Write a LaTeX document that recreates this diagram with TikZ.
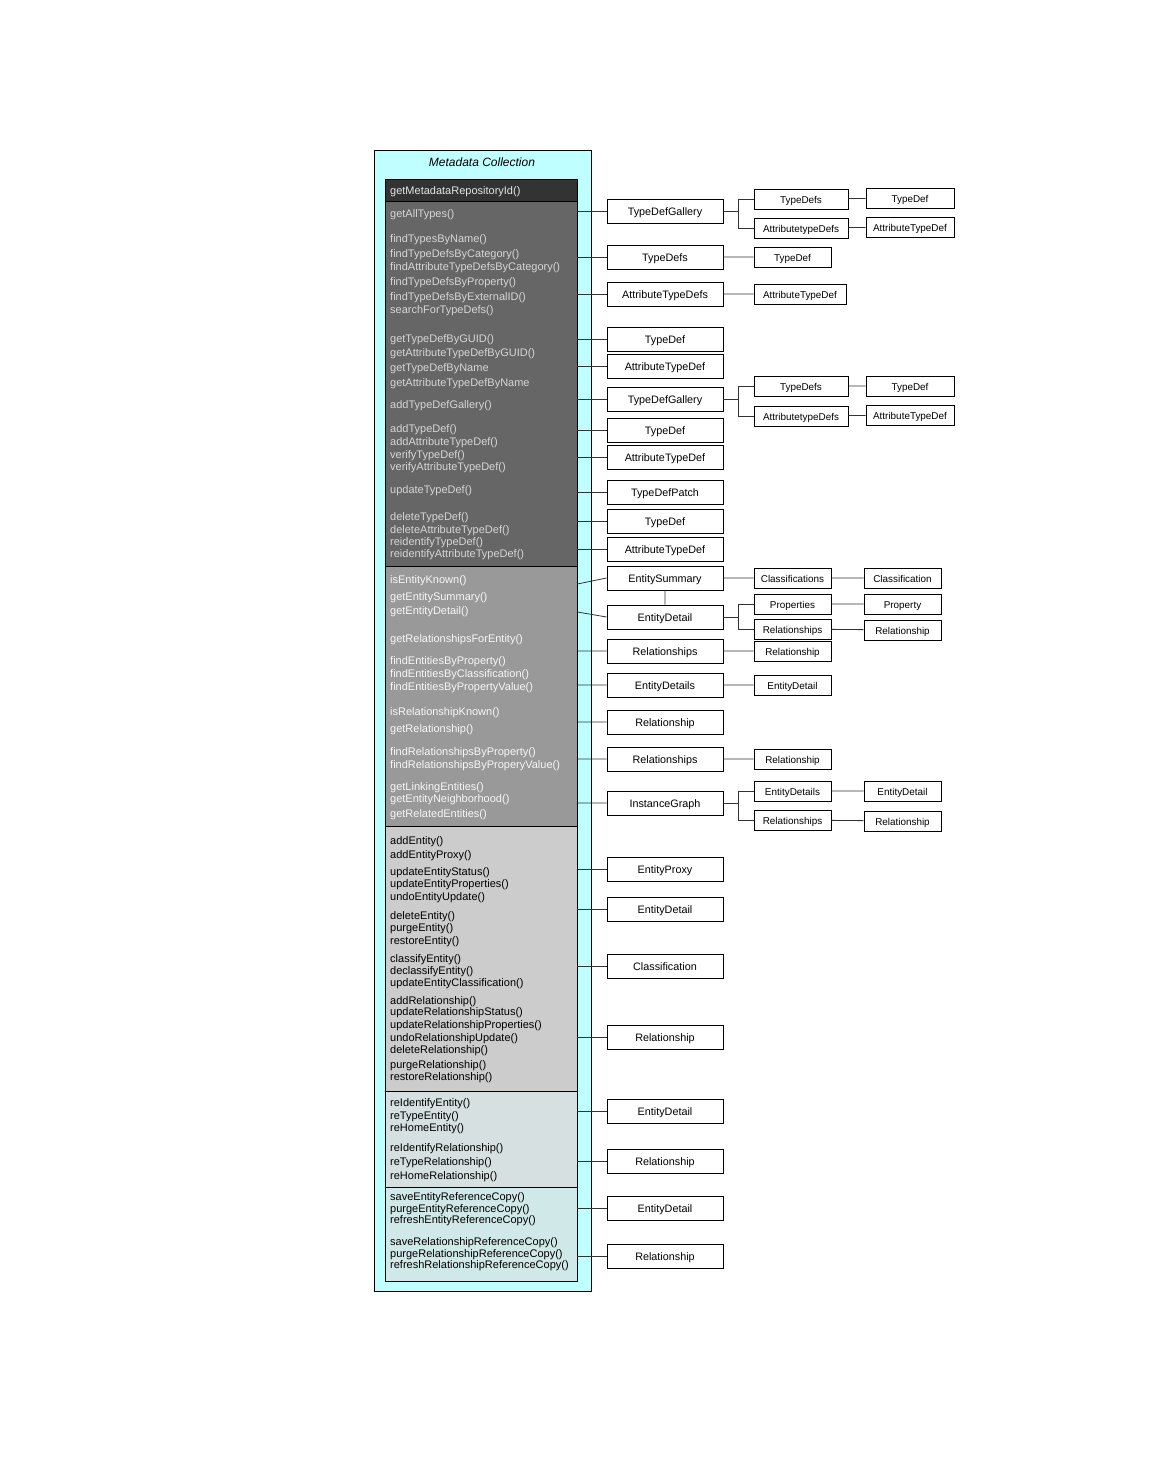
\documentclass[tikz,border=0pt]{standalone}
\usepackage{fontspec}
\setmainfont{Liberation Sans}
\definecolor{mcyan}{RGB}{192,255,255}
\definecolor{hdr}{RGB}{51,51,51}
\definecolor{grA}{RGB}{102,102,102}
\definecolor{grB}{RGB}{153,153,153}
\definecolor{grC}{RGB}{204,204,204}
\definecolor{grD}{RGB}{214,224,224}
\definecolor{grE}{RGB}{208,232,232}
\begin{document}
\begin{tikzpicture}[x=1pt,y=-1pt,
    sec/.style={draw,line width=0.8pt,inner sep=0pt,minimum width=192},
    meth/.style={anchor=west,inner sep=0pt,text height=9.6pt,text depth=0pt,
                 font=\fontsize{11}{12}\selectfont},
    methA/.style={meth,text=black!16},
    methB/.style={meth,text=black!3},
    obj/.style={draw,line width=0.8pt,fill=white,inner sep=0pt,minimum width=116,
                minimum height=24,text height=9.6pt,text depth=0pt,
                font=\fontsize{10.8}{12}\selectfont},
    sub/.style={draw,line width=0.8pt,fill=white,inner sep=0pt,minimum width=77,
                minimum height=20,text height=9.2pt,text depth=0pt,
                font=\fontsize{9.9}{11}\selectfont},
    link/.style={line width=0.8pt,draw=black!80}]
  \useasboundingbox (0,0) rectangle (1152,1468);

  % ---- collection ----------------------------------------------------------
  \node[draw,line width=0.8pt,fill=mcyan,inner sep=0pt,minimum width=217,
        minimum height=1141] (mc) at (482.5,720.5) {};
  \node[font=\itshape\fontsize{12}{14}\selectfont] (ttl) at (482,162) {Metadata Collection};

  \node[sec,fill=hdr,minimum height=22]  (hd)   at (481,190)    {};
  \node[sec,fill=grA,minimum height=365] (secA) at (481,383.5)  {};
  \node[sec,fill=grB,minimum height=260] (secB) at (481,696)    {};
  \node[sec,fill=grC,minimum height=265] (secC) at (481,958.5)  {};
  \node[sec,fill=grD,minimum height=96]  (secD) at (481,1139)   {};
  \node[sec,fill=grE,minimum height=94]  (secE) at (481,1234)   {};

  % ---- methods -------------------------------------------------------------
  \node[meth,text=black!10] (h0) at (390,190) {getMetadataRepositoryId()};

  \node[methA] (a1)  at (390,213) {getAllTypes()};
  \node[methA] (a2)  at (390,238) {findTypesByName()};
  \node[methA] (a3)  at (390,253) {findTypeDefsByCategory()};
  \node[methA] (a4)  at (390,266) {findAttributeTypeDefsByCategory()};
  \node[methA] (a5)  at (390,281) {findTypeDefsByProperty()};
  \node[methA] (a6)  at (390,296) {findTypeDefsByExternalID()};
  \node[methA] (a7)  at (390,309) {searchForTypeDefs()};
  \node[methA] (a8)  at (390,338) {getTypeDefByGUID()};
  \node[methA] (a9)  at (390,352) {getAttributeTypeDefByGUID()};
  \node[methA] (a10) at (390,367) {getTypeDefByName};
  \node[methA] (a11) at (390,382) {getAttributeTypeDefByName};
  \node[methA] (a12) at (390,404) {addTypeDefGallery()};
  \node[methA] (a13) at (390,428) {addTypeDef()};
  \node[methA] (a14) at (390,441) {addAttributeTypeDef()};
  \node[methA] (a15) at (390,454) {verifyTypeDef()};
  \node[methA] (a16) at (390,466) {verifyAttributeTypeDef()};
  \node[methA] (a17) at (390,489) {updateTypeDef()};
  \node[methA] (a18) at (390,516) {deleteTypeDef()};
  \node[methA] (a19) at (390,529) {deleteAttributeTypeDef()};
  \node[methA] (a20) at (390,541) {reidentifyTypeDef()};
  \node[methA] (a21) at (390,553) {reidentifyAttributeTypeDef()};

  \node[methB] (b1)  at (390,579) {isEntityKnown()};
  \node[methB] (b2)  at (390,596) {getEntitySummary()};
  \node[methB] (b3)  at (390,610) {getEntityDetail()};
  \node[methB] (b4)  at (390,638) {getRelationshipsForEntity()};
  \node[methB] (b5)  at (390,660) {findEntitiesByProperty()};
  \node[methB] (b6)  at (390,673) {findEntitiesByClassification()};
  \node[methB] (b7)  at (390,686) {findEntitiesByPropertyValue()};
  \node[methB] (b8)  at (390,711) {isRelationshipKnown()};
  \node[methB] (b9)  at (390,728) {getRelationship()};
  \node[methB] (b10) at (390,751) {findRelationshipsByProperty()};
  \node[methB] (b11) at (390,764) {findRelationshipsByProperyValue()};
  \node[methB] (b12) at (390,786) {getLinkingEntities()};
  \node[methB] (b13) at (390,798) {getEntityNeighborhood()};
  \node[methB] (b14) at (390,813) {getRelatedEntities()};

  \node[meth] (c1)  at (390,840)  {addEntity()};
  \node[meth] (c2)  at (390,854)  {addEntityProxy()};
  \node[meth] (c3)  at (390,871)  {updateEntityStatus()};
  \node[meth] (c4)  at (390,883)  {updateEntityProperties()};
  \node[meth] (c5)  at (390,896)  {undoEntityUpdate()};
  \node[meth] (c6)  at (390,915)  {deleteEntity()};
  \node[meth] (c7)  at (390,927)  {purgeEntity()};
  \node[meth] (c8)  at (390,940)  {restoreEntity()};
  \node[meth] (c9)  at (390,958)  {classifyEntity()};
  \node[meth] (c10) at (390,970)  {declassifyEntity()};
  \node[meth] (c11) at (390,982)  {updateEntityClassification()};
  \node[meth] (c12) at (390,1000) {addRelationship()};
  \node[meth] (c13) at (390,1011) {updateRelationshipStatus()};
  \node[meth] (c14) at (390,1024) {updateRelationshipProperties()};
  \node[meth] (c15) at (390,1037) {undoRelationshipUpdate()};
  \node[meth] (c16) at (390,1049) {deleteRelationship()};
  \node[meth] (c17) at (390,1064) {purgeRelationship()};
  \node[meth] (c18) at (390,1076) {restoreRelationship()};

  \node[meth] (d1) at (390,1102) {reIdentifyEntity()};
  \node[meth] (d2) at (390,1115) {reTypeEntity()};
  \node[meth] (d3) at (390,1127) {reHomeEntity()};
  \node[meth] (d4) at (390,1147) {reIdentifyRelationship()};
  \node[meth] (d5) at (390,1161) {reTypeRelationship()};
  \node[meth] (d6) at (390,1175) {reHomeRelationship()};

  \node[meth] (e1) at (390,1196) {saveEntityReferenceCopy()};
  \node[meth] (e2) at (390,1208) {purgeEntityReferenceCopy()};
  \node[meth] (e3) at (390,1219) {refreshEntityReferenceCopy()};
  \node[meth] (e4) at (390,1241) {saveRelationshipReferenceCopy()};
  \node[meth] (e5) at (390,1253) {purgeRelationshipReferenceCopy()};
  \node[meth] (e6) at (390,1264) {refreshRelationshipReferenceCopy()};

  % ---- returned objects ----------------------------------------------------
  \node[obj] (g1)   at (665,211)  {TypeDefGallery};
  \node[obj] (t1)   at (665,257)  {TypeDefs};
  \node[obj] (at1)  at (665,294)  {AttributeTypeDefs};
  \node[obj] (t2)   at (665,339)  {TypeDef};
  \node[obj] (at2)  at (665,366)  {AttributeTypeDef};
  \node[obj] (g2)   at (665,399)  {TypeDefGallery};
  \node[obj] (t3)   at (665,430)  {TypeDef};
  \node[obj] (at3)  at (665,457)  {AttributeTypeDef};
  \node[obj] (tp)   at (665,492)  {TypeDefPatch};
  \node[obj] (t4)   at (665,521)  {TypeDef};
  \node[obj] (at4)  at (665,549)  {AttributeTypeDef};
  \node[obj] (es)   at (665,578)  {EntitySummary};
  \node[obj] (ed1)  at (665,617)  {EntityDetail};
  \node[obj] (rs1)  at (665,651)  {Relationships};
  \node[obj] (eds1) at (665,685)  {EntityDetails};
  \node[obj] (r1)   at (665,722)  {Relationship};
  \node[obj] (rs2)  at (665,759)  {Relationships};
  \node[obj] (ig)   at (665,803)  {InstanceGraph};
  \node[obj] (ep)   at (665,869)  {EntityProxy};
  \node[obj] (ed2)  at (665,909)  {EntityDetail};
  \node[obj] (cl)   at (665,966)  {Classification};
  \node[obj] (r2)   at (665,1037) {Relationship};
  \node[obj] (ed3)  at (665,1111) {EntityDetail};
  \node[obj] (r3)   at (665,1161) {Relationship};
  \node[obj] (ed4)  at (665,1208) {EntityDetail};
  \node[obj] (r4)   at (665,1256) {Relationship};

  % ---- contents ------------------------------------------------------------
  \node[sub,minimum width=94] (g1a)  at (801,199)   {TypeDefs};
  \node[sub,minimum width=94] (g1b)  at (801,228)   {AttributetypeDefs};
  \node[sub,minimum width=88] (g1aa) at (910,198)   {TypeDef};
  \node[sub,minimum width=88] (g1bb) at (910,227)   {AttributeTypeDef};
  \node[sub]                  (t1a)  at (792.5,257) {TypeDef};
  \node[sub,minimum width=92] (at1a) at (800,294)   {AttributeTypeDef};
  \node[sub,minimum width=94] (g2a)  at (801,386)   {TypeDefs};
  \node[sub,minimum width=94] (g2b)  at (801,416)   {AttributetypeDefs};
  \node[sub,minimum width=88] (g2aa) at (910,386)   {TypeDef};
  \node[sub,minimum width=88] (g2bb) at (910,415)   {AttributeTypeDef};
  \node[sub] (cls)  at (792.5,578) {Classifications};
  \node[sub] (cl1)  at (902.5,578) {Classification};
  \node[sub] (pr)   at (792.5,604) {Properties};
  \node[sub] (pp)   at (902.5,604) {Property};
  \node[sub] (rs3)  at (792.5,629) {Relationships};
  \node[sub] (r5)   at (902.5,630) {Relationship};
  \node[sub] (r6)   at (792.5,651) {Relationship};
  \node[sub] (ed5)  at (792.5,685) {EntityDetail};
  \node[sub] (r7)   at (792.5,759) {Relationship};
  \node[sub] (eds2) at (792.5,791) {EntityDetails};
  \node[sub] (ed6)  at (902.5,791) {EntityDetail};
  \node[sub] (rs4)  at (792.5,820) {Relationships};
  \node[sub] (r8)   at (902.5,821) {Relationship};

  \coordinate (b1) at (738,211);
  \coordinate (b2) at (738,399);
  \coordinate (b3) at (738,617);
  \coordinate (b4) at (738,803);

  % ---- links ---------------------------------------------------------------
  \draw[link] (secA.east |- g1.west)  -- (g1.west)
              (secA.east |- t1.west)  -- (t1.west)
              (secA.east |- at1.west) -- (at1.west)
              (secA.east |- t2.west)  -- (t2.west)
              (secA.east |- at2.west) -- (at2.west)
              (secA.east |- g2.west)  -- (g2.west)
              (secA.east |- t3.west)  -- (t3.west)
              (secA.east |- at3.west) -- (at3.west)
              (secA.east |- tp.west)  -- (tp.west)
              (secA.east |- t4.west)  -- (t4.west)
              (secA.east |- at4.west) -- (at4.west);
  \draw[link] ([yshift=-6pt]secB.east |- es.west) -- (es.west)
              ([yshift=5pt]secB.east |- ed1.west) -- (ed1.west)
              (secB.east |- rs1.west)  -- (rs1.west)
              (secB.east |- eds1.west) -- (eds1.west)
              (secB.east |- r1.west)   -- (r1.west)
              (secB.east |- rs2.west)  -- (rs2.west)
              (secB.east |- ig.west)   -- (ig.west);
  \draw[link] (secC.east |- ep.west)  -- (ep.west)
              (secC.east |- ed2.west) -- (ed2.west)
              (secC.east |- cl.west)  -- (cl.west)
              (secC.east |- r2.west)  -- (r2.west)
              (secD.east |- ed3.west) -- (ed3.west)
              (secD.east |- r3.west)  -- (r3.west)
              (secE.east |- ed4.west) -- (ed4.west)
              (secE.east |- r4.west)  -- (r4.west);
  \draw[line width=1.6pt] ([yshift=13pt]secC.east |- ep.west) -- ([yshift=-15pt]secC.east |- ep.west);

  \draw[link] (g1.east) -- (b1) (b1) |- (g1a.west) (b1) |- (g1b.west)
              (g2.east) -- (b2) (b2) |- (g2a.west) (b2) |- (g2b.west)
              (ed1.east) -- (b3) (b3) |- (pr.west) (b3) |- (rs3.west)
              (ig.east) -- (b4) (b4) |- (eds2.west) (b4) |- (rs4.west);
  \draw[link] (g1a) -- (g1aa)  (g1b) -- (g1bb)
              (g2a) -- (g2aa)  (g2b) -- (g2bb)
              (t1) -- (t1a)    (at1) -- (at1a)
              (es) -- (cls)    (cls) -- (cl1)
              (es) -- (ed1)
              (pr) -- (pp)     (rs3) -- (r5)
              (rs1) -- (r6)    (eds1) -- (ed5)
              (rs2) -- (r7)
              (eds2) -- (ed6)  (rs4) -- (r8);
\end{tikzpicture}
\end{document}
